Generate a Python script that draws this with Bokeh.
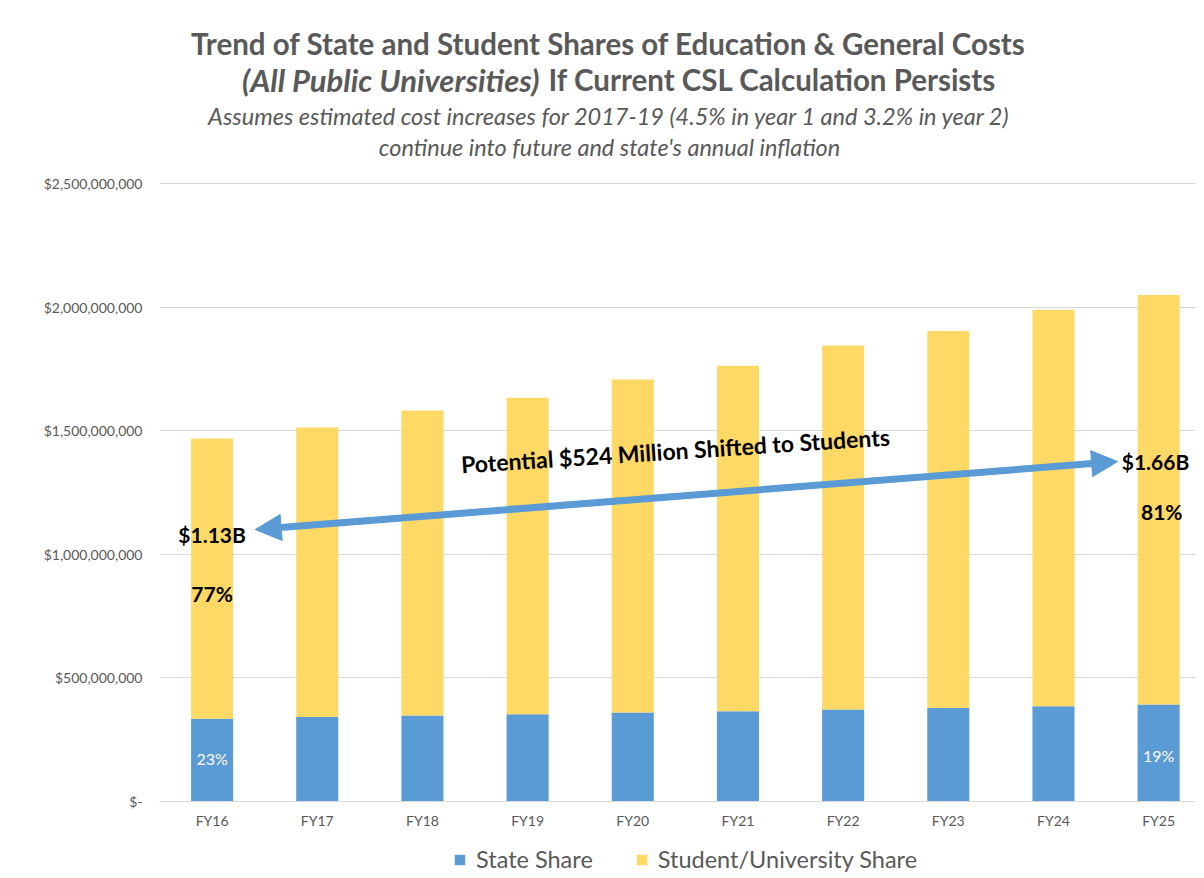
from bokeh.plotting import figure
from bokeh.layouts import column
from bokeh.models import (ColumnDataSource, Label, Arrow, NormalHead, Legend, LegendItem,
                          FixedTicker, NumeralTickFormatter, Range1d)
from bokeh.core.properties import value
from bokeh.embed import file_html
from bokeh.resources import INLINE

categories = ["FY16", "FY17", "FY18", "FY19", "FY20", "FY21", "FY22", "FY23", "FY24", "FY25"]
state_share = [0.335e9, 0.342e9, 0.348e9, 0.353e9, 0.360e9, 0.365e9, 0.372e9, 0.378e9, 0.385e9, 0.392e9]
student_share = [1.133e9, 1.171e9, 1.234e9, 1.280e9, 1.347e9, 1.398e9, 1.473e9, 1.525e9, 1.604e9, 1.657e9]
y_ticks = [0, 500_000_000, 1_000_000_000, 1_500_000_000, 2_000_000_000, 2_500_000_000]
series_names = ["State Share", "Student/University Share"]
series_colors = ["#5B9BD5", "#FFD966"]

FONT = "Lato"
GRAY = "#595959"

xs = list(range(len(categories)))
src = ColumnDataSource(dict(x=xs, state=state_share, student=student_share))

# the frame reaches the top of the figure so the title lines can sit inside it
p = figure(width=1196, height=835, output_backend="svg", toolbar_location=None,
           x_range=Range1d(-0.5, 9.36), y_range=Range1d(0, 3.240e9),
           min_border_left=159, min_border_right=0, min_border_top=0, min_border_bottom=34)
p.outline_line_color = None
p.background_fill_color = "white"
p.border_fill_color = "white"

renderers = p.vbar_stack(["state", "student"], x="x", width=0.4, color=series_colors,
                         line_color=None, source=src)

# axes
p.xaxis.ticker = FixedTicker(ticks=xs)
p.xaxis.major_label_overrides = {i: c for i, c in zip(xs, categories)}
p.xaxis.axis_line_color = "#D9D9D9"
p.xaxis.major_tick_line_color = None
p.xaxis.minor_tick_line_color = None
p.xaxis.major_tick_out = 0
p.xaxis.major_tick_in = 0
p.xaxis.major_label_standoff = 10
p.xaxis.major_label_text_font = FONT
p.xaxis.major_label_text_font_size = "14px"
p.xaxis.major_label_text_color = GRAY

p.yaxis.ticker = FixedTicker(ticks=y_ticks)
p.yaxis.formatter = NumeralTickFormatter(format="$0,0")
p.yaxis.major_label_overrides = {0: "$-"}
p.yaxis.axis_line_color = None
p.yaxis.major_tick_line_color = None
p.yaxis.minor_tick_line_color = None
p.yaxis.major_tick_out = 0
p.yaxis.major_tick_in = 0
p.yaxis.major_label_standoff = 17
p.yaxis.major_label_text_font = FONT
p.yaxis.major_label_text_font_size = "14px"
p.yaxis.major_label_text_color = GRAY

p.xgrid.grid_line_color = None
p.ygrid.grid_line_color = "#D9D9D9"
p.ygrid.ticker = FixedTicker(ticks=y_ticks)

# titles
def lab(text, x, y, size, style, align="center", color=GRAY):
    p.add_layout(Label(x=x, y=y, x_units="screen", y_units="screen", text=text,
                       text_font=FONT, text_font_size=size, text_font_style=style,
                       text_color=color, text_align=align, text_baseline="middle"))

lab("Trend of State and Student Shares of Education & General Costs", 449, 758, "29.5px", "bold")
lab("(All Public Universities)", 380, 722, "31px", "bold italic", align="right")
lab("If Current CSL Calculation Persists", 389, 722, "29.5px", "bold", align="left")
lab("Assumes estimated cost increases for 2017-19 (4.5% in year 1 and 3.2% in year 2)", 450, 686, "23.5px", "italic")
lab("continue into future and state's annual inflation", 450, 655, "23.5px", "italic")

# arrow and annotations
p.add_layout(Arrow(x_start=0.41, y_start=1.100e9, x_end=8.61, y_end=1.375e9,
                   line_color="#5B9BD5", line_width=7,
                   start=NormalHead(size=26, fill_color="#5B9BD5", line_color="#5B9BD5"),
                   end=NormalHead(size=26, fill_color="#5B9BD5", line_color="#5B9BD5")))

p.text(x=[4.405], y=[1.42e9], text=["Potential $524 Million Shifted to Students"],
       angle=0.065, text_align="center", text_baseline="middle",
       text_font=value(FONT), text_font_style="bold", text_font_size="23px", text_color="black")

p.text(x=[0, 0, 8.97, 9.03], y=[1.080e9, 0.841e9, 1.375e9, 1.173e9],
       text=["$1.13B", "77%", "$1.66B", "81%"], text_align="center", text_baseline="middle",
       text_font=value(FONT), text_font_style="bold", text_font_size="21px", text_color="black")

p.text(x=[0, 9], y=[0.174e9, 0.186e9], text=["23%", "19%"], text_align="center",
       text_baseline="middle", text_font=value(FONT), text_font_size="16px", text_color="white")

# legend strip under the chart (zero-size proxy bars carry the legend swatches)
pl = figure(width=1196, height=41, output_backend="svg", toolbar_location=None,
            x_range=Range1d(0, 1), y_range=Range1d(0, 1),
            min_border_left=159, min_border_right=0, min_border_top=0, min_border_bottom=0)
pl.axis.visible = False
pl.grid.grid_line_color = None
pl.outline_line_color = None
pl.border_fill_color = "white"
leg_r = [pl.vbar(x=[0], top=[0], bottom=[0], width=0, fill_color=c, line_color=None)
         for c in series_colors]
legend = Legend(items=[LegendItem(label=n, renderers=[r]) for n, r in zip(series_names, leg_r)],
                orientation="horizontal", location=(294, 3), border_line_color=None,
                background_fill_alpha=0, label_text_font=FONT, label_text_font_size="23.5px",
                label_text_color=GRAY, glyph_height=13, glyph_width=13, spacing=42,
                label_standoff=10, padding=2, margin=0)
pl.add_layout(legend)

open("out.html", "w").write(file_html(column(p, pl, spacing=0), INLINE))
